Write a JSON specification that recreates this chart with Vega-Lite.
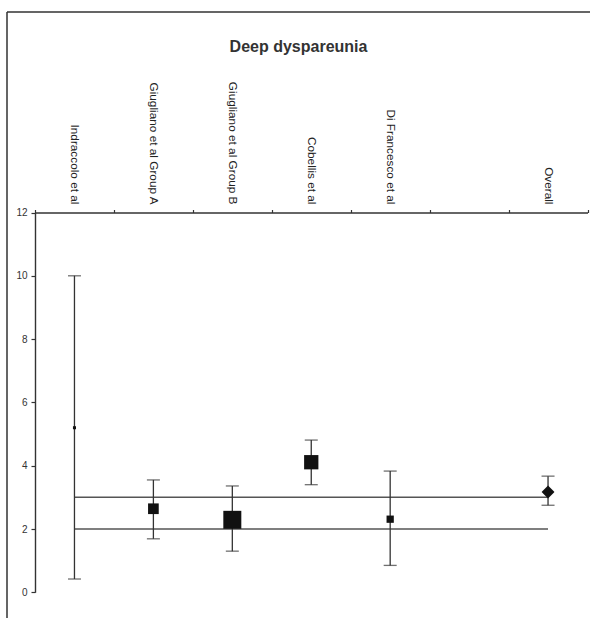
{
  "$schema": "https://vega.github.io/schema/vega-lite/v6.json",
  "width": 583,
  "height": 606,
  "autosize": {"type": "none"},
  "padding": {"left": 7, "top": 12, "right": 0, "bottom": 0},
  "background": "white",
  "config": {
    "view": {"stroke": "#333", "strokeWidth": 1.5, "strokeDash": [583, 1189, 606, 0]},
    "font": "Liberation Sans"
  },
  "title": {
    "text": "Deep dyspareunia",
    "fontSize": 16,
    "font": "Liberation Sans",
    "fontWeight": "bold",
    "color": "#333",
    "anchor": "middle",
    "frame": "group",
    "offset": 0,
    "baseline": "alphabetic",
    "dy": 56
  },
  "datasets": {
    "studies": [
      {"study": "Indraccolo et al", "est": 5.2, "lo": 0.42, "hi": 10.0, "weight": 1.3},
      {"study": "Giugliano et al Group A", "est": 2.64, "lo": 1.69, "hi": 3.55, "weight": 16.2},
      {"study": "Giugliano et al Group B", "est": 2.29, "lo": 1.3, "hi": 3.36, "weight": 46.0},
      {"study": "Cobellis et al", "est": 4.11, "lo": 3.4, "hi": 4.81, "weight": 29.0},
      {"study": "Di Francesco et al", "est": 2.31, "lo": 0.85, "hi": 3.83, "weight": 7.5},
      {"study": "Overall", "est": 3.17, "lo": 2.75, "hi": 3.67, "weight": null}
    ],
    "refs": [{"level": 2}, {"level": 3}]
  },
  "data": {"name": "studies"},
  "encoding": {
    "x": {
      "field": "study",
      "type": "nominal",
      "sort": null,
      "scale": {
        "type": "band",
        "domain": ["Indraccolo et al", "Giugliano et al Group A", "Giugliano et al Group B", "Cobellis et al", "Di Francesco et al", "blank", "Overall"],
        "range": [28, 580.5],
        "paddingInner": 0,
        "paddingOuter": 0
      },
      "axis": {
        "orient": "top",
        "offset": -200.5,
        "title": null,
        "tickBand": "extent",
        "tickSize": 3,
        "tickColor": "#333",
        "tickWidth": 1.2,
        "domainColor": "#333",
        "domainWidth": 1.4,
        "labelAngle": 90,
        "labelAlign": "right",
        "labelBaseline": "middle",
        "labelPadding": 5.5,
        "labelFontSize": 11.8,
        "labelFont": "Liberation Sans",
        "labelColor": "#222",
        "labelOverlap": false,
        "labelBound": false,
        "labelLimit": 400,
        "labelExpr": "datum.value == 'blank' ? '' : datum.value"
      }
    }
  },
  "layer": [
    {
      "data": {"name": "refs"},
      "mark": {"type": "rule", "color": "#555", "strokeWidth": 1.5},
      "encoding": {
        "x": {"datum": "Indraccolo et al"},
        "x2": {"datum": "Overall"},
        "y": {
          "field": "level",
          "type": "quantitative",
          "scale": {"domain": [0, 12], "range": [580.3, 200.5], "nice": false, "zero": true},
          "axis": {
            "orient": "left",
            "offset": -28,
            "title": null,
            "values": [0, 2, 4, 6, 8, 10, 12],
            "grid": false,
            "tickSize": 4,
            "tickColor": "#333",
            "tickWidth": 1.2,
            "domainColor": "#333",
            "domainWidth": 1.4,
            "labelPadding": 4,
            "labelFontSize": 10,
            "labelFont": "Liberation Sans",
            "labelColor": "#333"
          }
        }
      }
    },
    {
      "mark": {"type": "rule", "color": "#333", "strokeWidth": 1.3},
      "encoding": {
        "y": {"field": "lo", "type": "quantitative"},
        "y2": {"field": "hi"}
      }
    },
    {
      "mark": {"type": "tick", "orient": "horizontal", "size": 13, "thickness": 1.3, "color": "#333"},
      "encoding": {"y": {"field": "lo", "type": "quantitative"}}
    },
    {
      "mark": {"type": "tick", "orient": "horizontal", "size": 13, "thickness": 1.3, "color": "#333"},
      "encoding": {"y": {"field": "hi", "type": "quantitative"}}
    },
    {
      "transform": [{"filter": "datum.study != 'Overall'"}],
      "mark": {"type": "point", "shape": "square", "filled": true, "color": "#111", "opacity": 1},
      "encoding": {
        "y": {"field": "est", "type": "quantitative"},
        "size": {"field": "weight", "type": "quantitative", "scale": {"type": "linear", "domain": [0, 46], "range": [0, 324], "zero": true}, "legend": null}
      }
    },
    {
      "transform": [{"filter": "datum.study == 'Overall'"}],
      "mark": {"type": "point", "shape": "diamond", "filled": true, "color": "#111", "opacity": 1, "size": 165},
      "encoding": {
        "y": {"field": "est", "type": "quantitative"}
      }
    }
  ]
}
